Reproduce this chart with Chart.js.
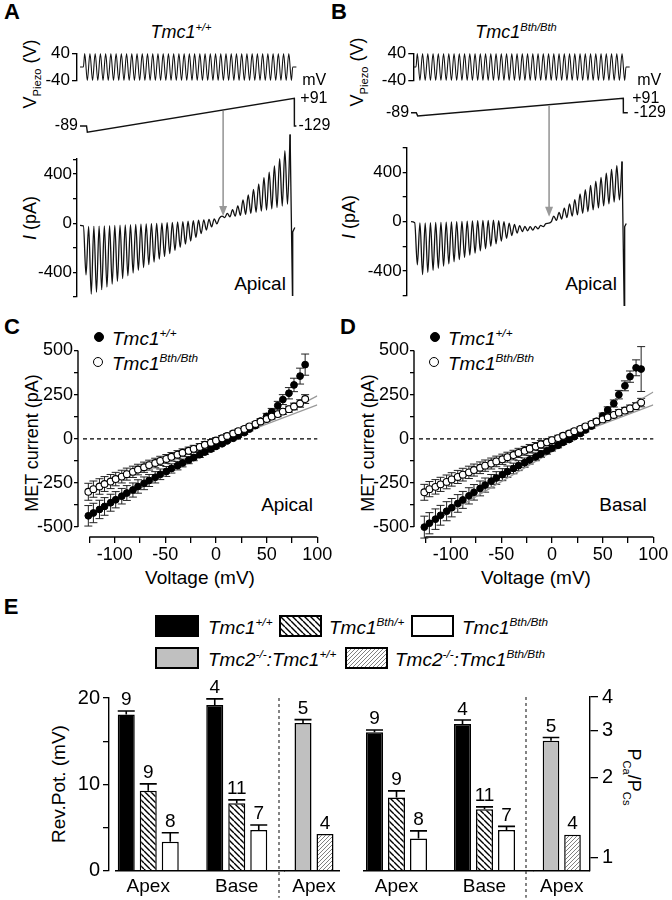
<!DOCTYPE html>
<html>
<head>
<meta charset="utf-8">
<title>Tmc1 MET currents</title>
<script src="https://cdn.jsdelivr.net/npm/chart.js@4.4.1/dist/chart.umd.min.js"></script>
<style>
  body { margin: 0; background: #fff; }
  #fig { position: relative; width: 672px; height: 900px; overflow: hidden; background: #fff;
         font-family: "Liberation Sans", Arial, Helvetica, sans-serif; color: #000; }
  #fig canvas { position: absolute; }
  .txt { position: absolute; white-space: nowrap; line-height: 1; font-weight: normal; transform: translate(-50%, -50%); }
  .left { transform: translate(0, -50%); }
  .up { transform: translate(-50%, -50%) rotate(-90deg); }
  .down { transform: translate(-50%, -50%) rotate(90deg); }
  .panel { font-weight: bold; font-size: 22px; }
  .it { font-style: italic; }
  sup, sub { font-size: 62%; line-height: 0; }
  .dot { position: absolute; width: 10px; height: 10px; border-radius: 50%; border: 1.3px solid #000;
         box-sizing: border-box; transform: translate(-50%, -50%); }
</style>
</head>
<body>
<div id="fig">
  <div class="txt panel" style="left:12px;top:12px">A</div>
  <div class="txt panel" style="left:339px;top:12px">B</div>
  <div class="txt panel" style="left:12px;top:327px">C</div>
  <div class="txt panel" style="left:348px;top:327px">D</div>
  <div class="txt panel" style="left:11px;top:607px">E</div>

  <div class="txt it" style="left:181px;top:32px;font-size:18px">Tmc1<sup>+/+</sup></div>
  <div class="txt it" style="left:516px;top:32px;font-size:18px">Tmc1<sup>Bth/Bth</sup></div>
  <div class="txt up" style="left:30px;top:74px;font-size:18px">V<sub>Piezo</sub> (V)</div>
  <div class="txt up" style="left:357px;top:72px;font-size:18px">V<sub>Piezo</sub> (V)</div>
  <div class="txt up" style="left:30px;top:218px;font-size:18px"><i>I</i> (pA)</div>
  <div class="txt up" style="left:349px;top:217px;font-size:18px"><i>I</i> (pA)</div>
  <div class="txt" style="left:260px;top:283px;font-size:19px">Apical</div>
  <div class="txt" style="left:591px;top:283px;font-size:19px">Apical</div>

  <div class="dot" style="left:99px;top:337px;background:#000"></div>
  <div class="txt left it" style="left:112px;top:338px;font-size:19px">Tmc1<sup>+/+</sup></div>
  <div class="dot" style="left:98px;top:362px;background:#fff"></div>
  <div class="txt left it" style="left:112px;top:363px;font-size:19px">Tmc1<sup>Bth/Bth</sup></div>
  <div class="dot" style="left:435px;top:337px;background:#000"></div>
  <div class="txt left it" style="left:448px;top:338px;font-size:19px">Tmc1<sup>+/+</sup></div>
  <div class="dot" style="left:434px;top:362px;background:#fff"></div>
  <div class="txt left it" style="left:448px;top:363px;font-size:19px">Tmc1<sup>Bth/Bth</sup></div>

  <div class="txt up" style="left:32px;top:443px;font-size:18px">MET current (pA)</div>
  <div class="txt up" style="left:368px;top:443px;font-size:18px">MET current (pA)</div>
  <div class="txt" style="left:200px;top:577px;font-size:19px">Voltage (mV)</div>
  <div class="txt" style="left:536px;top:577px;font-size:19px">Voltage (mV)</div>
  <div class="txt" style="left:287px;top:504px;font-size:19px">Apical</div>
  <div class="txt" style="left:623px;top:504px;font-size:19px">Basal</div>

  <div class="txt left it" style="left:208px;top:627px;font-size:19px">Tmc1<sup>+/+</sup></div>
  <div class="txt left it" style="left:329px;top:627px;font-size:19px">Tmc1<sup>Bth/+</sup></div>
  <div class="txt left it" style="left:462px;top:627px;font-size:19px">Tmc1<sup>Bth/Bth</sup></div>
  <div class="txt left it" style="left:208px;top:659px;font-size:19px">Tmc2<sup>-/-</sup>:Tmc1<sup>+/+</sup></div>
  <div class="txt left it" style="left:395px;top:659px;font-size:19px">Tmc2<sup>-/-</sup>:Tmc1<sup>Bth/Bth</sup></div>
  <div class="txt up" style="left:58px;top:784px;font-size:19px">Rev.Pot. (mV)</div>
  <div class="txt down" style="left:634px;top:777px;font-size:18px">P<sub>Ca</sub>/P<sub>Cs</sub></div>
</div>
<script>
// piezo drive, one extreme per half cycle (V)
const piezoWave = [40,-40,40,-40,40,-40,40,-40,40,-40,40,-40,40,-40,40,-40,40,-40,40,-40,
  40,-40,40,-40,40,-40,40,-40,40,-40,40,-40,40,-40,40,-40,40,-40,40,-40,
  40,-40,40,-40,40,-40,40,-40,40,-40,40,-40,40,-40,40,-40,40,-40,40,-40,
  40,-40,40,-40,40,-40,40,-40,40,-40,40,-40,40,-40,40,-40,40,-40,40,-40];
const piezoTicks = [-40, 40];

// current per stimulus cycle (pA): level between deflections and at the deflection peak
const restA = [-22,-26,-25,-23,-21,-19,-17,-15,-13,-11,-9,-7,-5,-3,-1,1,4,7,10,13,
  16,20,24,28,32,36,42,46,51,57,64,72,80,89,98,107,117,127,140,155];
const peakA = [-420,-575,-560,-540,-518,-495,-472,-450,-427,-405,-382,-360,-337,-315,-292,-270,-247,-222,-195,-170,
  -145,-115,-85,-55,-30,-5,58,80,110,140,190,230,275,320,370,415,465,525,590,720];
const restB = [-8,-10,-9,-8,-6,-5,-4,-2,0,2,4,6,8,10,11,12,8,0,-12,-22,
  -32,-38,-40,-38,-30,-15,-2,10,22,34,45,55,68,82,96,112,128,145,160,176];
const peakB = [-350,-430,-412,-395,-378,-360,-343,-325,-308,-290,-272,-255,-237,-220,-200,-180,-158,-135,-112,-92,
  -80,-74,-68,-58,-40,-12,45,75,110,145,180,225,260,295,330,360,395,425,455,488];
const leadA = [-0.65, -18];
const leadB = [-0.7, 0];
const tailTimesA = [39.5, 39.95, 40.0, 40.4];
const tailCurrentA = [720, -585, -70, -35];
const tailTimesB = [39.5, 39.9, 40.0, 40.3];
const tailCurrentB = [488, -680, -40, -15];
const currentTicksA = [-600, -400, -200, 0, 200, 400, 520];
const currentTicksB = [-600, -400, -200, 0, 200, 400, 600];
const currentLabels = [-400, 0, 400];

// voltage protocol (mV) against stimulus cycles
const rampVolts = [-89, -89, -129, 91, -89, -89];
const rampTimesA = [-0.65, 0.6, 0.75, 40.3, 40.32, 40.7];
const rampTimesB = [-0.7, 0.3, 0.57, 39.73, 39.75, 40.6];
const rampNotes = ['-89', '+91', '-129', 'mV'];
const arrowA = { t: 26.7, mV: 15, pA: 59 };
const arrowB = { t: 25.6, mV: 11, pA: 41 };

// I-V relations, one point per cycle
const voltages = [-126,-121,-115,-110,-104,-99,-93,-88,-82,-77,-71,-66,-60,-55,-49,-44,-38,-33,-27,-22,
  -16,-11,-5,0,6,11,17,22,28,33,39,44,50,55,61,66,72,77,83,88];
const apicalWT = [-436,-420,-400,-383,-362,-345,-325,-307,-290,-270,-252,-236,-218,-201,-185,-168,-152,-137,-121,-106,
  -90,-75,-58,-43,-28,-12,3,18,35,55,75,100,127,152,188,222,258,305,355,420];
const apicalWTErr = [58,55,52,50,48,46,44,42,40,38,36,34,32,30,28,26,24,22,20,18,
  16,14,12,10,9,8,8,8,9,10,12,14,17,20,24,28,32,38,45,60];
const apicalBth = [-300,-285,-270,-256,-242,-228,-214,-200,-187,-174,-161,-149,-137,-125,-114,-102,-90,-79,-68,-57,
  -46,-34,-22,-10,3,16,30,43,56,70,84,98,112,126,140,154,168,183,200,225];
const apicalBthErr = [48,46,44,42,40,38,36,34,32,30,29,28,27,26,25,24,23,22,21,20,
  19,18,17,16,15,14,13,12,12,12,12,12,13,14,15,16,17,19,21,25];
const basalWT = [-500,-478,-455,-433,-410,-390,-366,-346,-323,-303,-281,-262,-240,-222,-203,-186,-168,-152,-135,-119,
  -102,-86,-69,-53,-37,-20,-4,12,30,50,72,98,130,163,200,250,300,352,402,395];
const basalWTErr = [62,60,58,56,54,52,50,48,46,44,42,40,38,36,34,32,30,28,26,24,
  22,20,18,16,14,12,11,10,10,11,12,14,16,18,20,24,28,32,45,127];
const basalBth = [-303,-285,-272,-258,-244,-230,-216,-203,-190,-177,-164,-152,-140,-128,-116,-104,-92,-80,-68,-56,
  -44,-32,-20,-8,4,17,30,43,56,70,84,98,110,122,135,148,160,172,185,205];
const basalBthErr = [45,43,41,40,39,38,37,36,35,34,33,32,31,30,29,28,27,26,25,24,
  23,22,20,18,16,14,13,12,12,12,12,13,14,15,16,17,18,19,20,24];
const fitVolts = [-126, 100];
const fitApicalWT = [-436, 243];
const fitApicalBth = [-300, 192];
const fitBasalWT = [-500, 265];
const fitBasalBth = [-300, 192];
const ivTicksX = [-125, -100, -75, -50, -25, 0, 25, 50, 75, 100];
const ivLabelsX = [-100, -50, 0, 50, 100];
const ivTicksY = [-500, -375, -250, -125, 0, 125, 250, 375, 500];
const ivLabelsY = [-500, -250, 0, 250, 500];

// reversal potential (mV) and P_Ca/P_Cs, with SEM and cell numbers
const eGroups = ['Apex', 'Base'];
const eTmc2Groups = ['Apex'];
const revWT = [18.1, 19.2], revWTErr = [0.4, 0.7];
const revHet = [9.25, 7.8], revHetErr = [0.8, 0.4];
const revBth = [3.35, 4.7], revBthErr = [1.05, 0.6];
const revTmc2WT = [17.1], revTmc2WTErr = [0.4];
const revTmc2Bth = [4.25], revTmc2BthErr = [0];
const ratioWT = [2.95, 3.17], ratioWTErr = [0.06, 0.11];
const ratioHet = [1.68, 1.52], ratioHetErr = [0.1, 0.03];
const ratioBth = [1.18, 1.27], ratioBthErr = [0.08, 0.04];
const ratioTmc2WT = [2.74], ratioTmc2WTErr = [0.08];
const ratioTmc2Bth = [1.22], ratioTmc2BthErr = [0];
const nWT = [9, 4], nHet = [9, 11], nBth = [8, 7], nTmc2WT = [5], nTmc2Bth = [4];
const revTicks = [0, 5, 10, 15, 20], revLabels = [0, 10, 20];
const ratioTicks = [1, 2, 3, 4];

Chart.defaults.font.family = '"Liberation Sans", Arial, sans-serif';
Chart.defaults.color = '#000';
Chart.defaults.animation = false;
Chart.defaults.events = [];
Chart.defaults.plugins.legend.display = false;
Chart.defaults.plugins.tooltip.enabled = false;

const fig = document.getElementById('fig');
const FONT = '"Liberation Sans", Arial, sans-serif';

const zip = (xs, ys) => xs.map((x, i) => ({ x: x, y: ys[i] }));

function hatch(size, color, width, slash, bg) {
  const c = document.createElement('canvas');
  c.width = c.height = size;
  const g = c.getContext('2d');
  g.fillStyle = bg;
  g.fillRect(0, 0, size, size);
  g.strokeStyle = color;
  g.lineWidth = width;
  g.beginPath();
  [-size, 0, size].forEach(o => {
    if (slash) { g.moveTo(o, size); g.lineTo(o + size, 0); }
    else { g.moveTo(o, 0); g.lineTo(o + size, size); }
  });
  g.stroke();
  return g.createPattern(c, 'repeat');
}
const coarseHatch = hatch(6, '#000', 1.4, false, '#fff');
const fineHatch = hatch(4, '#808080', 1, true, '#fff');

// canvas placed so the chart area lands on `area`, with `room` kept round it
function placeChart(area, room, config) {
  const x0 = Math.floor(area.l - room.l), y0 = Math.floor(area.t - room.t);
  const x1 = Math.ceil(area.r + room.r), y1 = Math.ceil(area.b + room.b);
  const pad = { left: area.l - x0, top: area.t - y0, right: x1 - area.r, bottom: y1 - area.b };
  const cv = document.createElement('canvas');
  cv.width = x1 - x0;
  cv.height = y1 - y0;
  cv.style.left = x0 + 'px';
  cv.style.top = y0 + 'px';
  fig.appendChild(cv);
  const layoutPad = Object.assign({}, pad);
  Object.values(config.options.scales).forEach(s => {
    if (s.display === false) return;
    const side = s.position;
    layoutPad[side] = 0;
    s.afterFit = sc => {
      if (side === 'left' || side === 'right') sc.width = pad[side];
      else sc.height = pad[side];
      sc.paddingLeft = sc.paddingRight = sc.paddingTop = sc.paddingBottom = 0;
    };
  });
  config.options.layout = { padding: layoutPad };
  config.options.responsive = false;
  return new Chart(cv, config);
}

function axisOf(o) {
  return {
    type: o.type || 'linear',
    position: o.position,
    min: o.min,
    max: o.max,
    offset: false,
    afterBuildTicks: s => { s.ticks = o.ticks.map(v => ({ value: v })); },
    grid: { display: true, offset: false, drawOnChartArea: false, drawTicks: o.tickLen > 0,
            tickLength: o.tickLen, color: '#000', lineWidth: 1.3 },
    border: { display: o.border !== false, color: '#000', width: 1.4 },
    ticks: { autoSkip: false, maxRotation: 0, padding: o.pad, color: '#000', font: { size: o.size },
             callback: o.label || (v => (o.labels.includes(v) ? String(v) : '')) }
  };
}

// ---------- A / B: stimulus, voltage ramp and current traces ----------
function piezoPoints(lead) {
  const pts = [{ x: lead, y: 0 }, { x: 0, y: 0 }];
  piezoWave.forEach((v, k) => pts.push({ x: 0.25 + k / 2, y: v }));
  pts.push({ x: 40, y: 0 }, { x: 40.7, y: 0 });
  return pts;
}

function tracePoints(lead, rest, peak) {
  const pts = [{ x: lead[0], y: lead[1] }];
  rest.forEach((r, i) => {
    pts.push({ x: i, y: r });
    pts.push({ x: i + 0.5, y: peak[i] });
  });
  return pts;
}

function piezoChart(area, room, tMin, tMax, lead) {
  placeChart(area, room, {
    type: 'line',
    data: { datasets: [{ data: piezoPoints(lead), borderColor: '#111', borderWidth: 1.1, pointRadius: 0,
                         cubicInterpolationMode: 'monotone', clip: false }] },
    options: { scales: {
      x: { type: 'linear', display: false, min: tMin, max: tMax },
      y: axisOf({ position: 'left', min: -40, max: 40, ticks: piezoTicks, labels: piezoTicks,
                  tickLen: 5, pad: 2, size: 17 })
    } }
  });
}

const traceNotes = {
  id: 'traceNotes',
  afterDatasetsDraw(chart, args, o) {
    const ctx = chart.ctx;
    const ramp = chart.getDatasetMeta(2).data;
    const first = ramp[0], top = ramp[3], last = ramp[ramp.length - 1];
    ctx.save();
    ctx.fillStyle = '#000';
    ctx.font = '16px ' + FONT;
    ctx.textBaseline = 'middle';
    ctx.textAlign = 'right';
    ctx.fillText(rampNotes[0], first.x - 2, first.y);
    ctx.textAlign = 'left';
    ctx.fillText(rampNotes[1], top.x + o.gapTop, top.y);
    ctx.fillText(rampNotes[2], last.x + o.gapEnd, last.y);
    ctx.fillText(rampNotes[3], top.x + o.gapUnit, top.y - 18);

    const ax = chart.scales.x.getPixelForValue(o.arrow.t);
    const ay0 = chart.scales.yV.getPixelForValue(o.arrow.mV) + 1;
    const ay1 = chart.scales.y.getPixelForValue(o.arrow.pA);
    ctx.strokeStyle = '#999';
    ctx.fillStyle = '#999';
    ctx.lineWidth = 1.6;
    ctx.beginPath();
    ctx.moveTo(ax, ay0);
    ctx.lineTo(ax, ay1 - 8);
    ctx.stroke();
    ctx.beginPath();
    ctx.moveTo(ax - 4, ay1 - 10);
    ctx.lineTo(ax + 4, ay1 - 10);
    ctx.lineTo(ax, ay1);
    ctx.closePath();
    ctx.fill();
    ctx.restore();
  }
};

function currentChart(area, room, t, yRange, vRange, trace, ticks, notes) {
  placeChart(area, room, {
    type: 'line',
    data: { datasets: [
      { data: trace.points, borderColor: '#111', borderWidth: 1.3, pointRadius: 0,
        cubicInterpolationMode: 'monotone', clip: false },
      { data: trace.tail, borderColor: '#111', borderWidth: 1.3, pointRadius: 0, tension: 0, clip: false },
      { data: trace.ramp, yAxisID: 'yV', borderColor: '#111', borderWidth: 1.4, pointRadius: 0, tension: 0, clip: false }
    ] },
    options: {
      scales: {
        x: { type: 'linear', display: false, min: t[0], max: t[1] },
        y: axisOf({ position: 'left', min: yRange[0], max: yRange[1], ticks: ticks, labels: currentLabels,
                    tickLen: 4, pad: 1, size: 17 }),
        yV: { type: 'linear', display: false, min: vRange[0], max: vRange[1] }
      },
      plugins: { traceNotes: notes }
    },
    plugins: [traceNotes]
  });
}

piezoChart({ l: 77, r: 300, t: 53.5, b: 80.5 }, { l: 77, t: 8, r: 40, b: 8 }, -1.223, 41.39, -0.65);
piezoChart({ l: 413.3, r: 640, t: 53.5, b: 80.5 }, { l: 77.3, t: 8, r: 30, b: 8 }, -0.514, 42.67, -0.45);

currentChart({ l: 77, r: 300, t: 159.2, b: 297.1 }, { l: 77, t: 92, r: 40, b: 10 },
  [-1.223, 41.39], [-600, 520], [-1200.7, -304.7],
  { points: tracePoints(leadA, restA, peakA), tail: zip(tailTimesA, tailCurrentA), ramp: zip(rampTimesA, rampVolts) },
  currentTicksA, { gapTop: 6, gapEnd: 2, gapUnit: 8, arrow: arrowA });
currentChart({ l: 406.7, r: 640, t: 147.8, b: 295.6 }, { l: 70.7, t: 81, r: 30, b: 14 },
  [-1.524, 42.92], [-600, 600], [-2375.25, -527.75],
  { points: tracePoints(leadB, restB, peakB), tail: zip(tailTimesB, tailCurrentB), ramp: zip(rampTimesB, rampVolts) },
  currentTicksB, { gapTop: 9, gapEnd: 6, gapUnit: 14, arrow: arrowB });

// ---------- C / D: I-V relations ----------
const ivDecor = {
  id: 'ivDecor',
  beforeDatasetsDraw(chart) {
    const ctx = chart.ctx, xs = chart.scales.x, ys = chart.scales.y, a = chart.chartArea;
    ctx.save();
    ctx.strokeStyle = '#000';
    ctx.lineWidth = 1.4;
    ctx.beginPath();
    ctx.moveTo(a.left, ys.getPixelForValue(ivTicksY[0]));
    ctx.lineTo(a.left, ys.getPixelForValue(ivTicksY[ivTicksY.length - 1]));
    ctx.moveTo(xs.getPixelForValue(ivTicksX[0]), a.bottom);
    ctx.lineTo(xs.getPixelForValue(ivTicksX[ivTicksX.length - 1]), a.bottom);
    ctx.stroke();

    const y0 = ys.getPixelForValue(0);
    ctx.setLineDash([4, 3]);
    ctx.lineWidth = 1.3;
    ctx.beginPath();
    ctx.moveTo(a.left + 5, y0);
    ctx.lineTo(xs.getPixelForValue(100), y0);
    ctx.stroke();
    ctx.setLineDash([]);

    ctx.lineWidth = 1;
    ctx.strokeStyle = '#222';
    chart.data.datasets.forEach((ds, i) => {
      if (!ds.err) return;
      chart.getDatasetMeta(i).data.forEach((p, j) => {
        const hi = ys.getPixelForValue(ds.data[j].y + ds.err[j]);
        const lo = ys.getPixelForValue(ds.data[j].y - ds.err[j]);
        ctx.beginPath();
        ctx.moveTo(p.x, hi); ctx.lineTo(p.x, lo);
        ctx.moveTo(p.x - 4, hi); ctx.lineTo(p.x + 4, hi);
        ctx.moveTo(p.x - 4, lo); ctx.lineTo(p.x + 4, lo);
        ctx.stroke();
      });
    });
    ctx.restore();
  }
};

function ivChart(left, wt, wtErr, bth, bthErr, fitWT, fitBth) {
  placeChart({ l: left, r: left + 239.3, t: 350.5, b: 537 }, { l: 78, t: 30, r: 18, b: 48 }, {
    type: 'scatter',
    data: { datasets: [
      { data: zip(voltages, bth), err: bthErr, pointRadius: 3.4, pointBackgroundColor: '#fff',
        pointBorderColor: '#000', pointBorderWidth: 1.1, order: 0 },
      { data: zip(voltages, wt), err: wtErr, pointRadius: 3.4, pointBackgroundColor: '#000',
        pointBorderColor: '#000', pointBorderWidth: 1, order: 1 },
      { type: 'line', data: zip(fitVolts, fitWT), borderColor: '#999', borderWidth: 1.2, pointRadius: 0, order: 2 },
      { type: 'line', data: zip(fitVolts, fitBth), borderColor: '#999', borderWidth: 1.2, pointRadius: 0, order: 3 }
    ] },
    options: { scales: {
      x: axisOf({ position: 'bottom', min: -136.2, max: 100, ticks: ivTicksX, labels: ivLabelsX,
                  tickLen: 6, pad: 1, size: 18, border: false }),
      y: axisOf({ position: 'left', min: -556, max: 500, ticks: ivTicksY, labels: ivLabelsY,
                  tickLen: 4, pad: 1, size: 18, border: false })
    } },
    plugins: [ivDecor]
  });
}

ivChart(78, apicalWT, apicalWTErr, apicalBth, apicalBthErr, fitApicalWT, fitApicalBth);
ivChart(414, basalWT, basalWTErr, basalBth, basalBthErr, fitBasalWT, fitBasalBth);

// ---------- E: bar charts ----------
const barNotes = {
  id: 'barNotes',
  afterDatasetsDraw(chart, args, o) {
    const ctx = chart.ctx, ys = chart.scales.y, a = chart.chartArea;
    ctx.save();
    ctx.strokeStyle = '#000';
    ctx.fillStyle = '#000';
    ctx.lineWidth = 1.6;
    ctx.font = '19px ' + FONT;
    ctx.textAlign = 'center';
    ctx.textBaseline = 'alphabetic';
    chart.data.datasets.forEach((ds, i) => {
      chart.getDatasetMeta(i).data.forEach((bar, j) => {
        const e = ds.err[j];
        const top = ys.getPixelForValue(ds.data[j].y + e);
        if (e > 0) {
          ctx.beginPath();
          ctx.moveTo(bar.x, bar.y);
          ctx.lineTo(bar.x, top);
          ctx.moveTo(bar.x - bar.width / 2, top);
          ctx.lineTo(bar.x + bar.width / 2, top);
          ctx.stroke();
        }
        ctx.fillText(String(ds.n[j]), bar.x, top - 5.5);
      });
    });
    ctx.lineWidth = 1.6;
    ctx.beginPath();
    ctx.moveTo(a.left + o.from, a.bottom);
    ctx.lineTo(a.right + o.to, a.bottom);
    ctx.stroke();
    if (o.divider) {
      ctx.lineWidth = 1.2;
      ctx.strokeStyle = '#333';
      ctx.setLineDash([3, 3]);
      ctx.beginPath();
      ctx.moveTo(a.right - 2, a.top);
      ctx.lineTo(a.right - 2, a.bottom + 27);
      ctx.stroke();
    }
    ctx.restore();
  }
};

function bars(values, errs, ns, fill, catPct) {
  return { data: values.map((v, i) => ({ x: i, y: v })), err: errs, n: ns, backgroundColor: fill,
           borderColor: '#000', borderWidth: 1.5, barPercentage: 0.773, categoryPercentage: catPct };
}

function groupAxis(min, max, names) {
  return axisOf({ position: 'bottom', min: min, max: max, ticks: names.map((n, i) => i),
                  label: v => names[v], tickLen: 0, pad: 5, size: 19, border: false });
}

function barChart(area, room, datasets, xAxis, yAxis, notes) {
  placeChart(area, room, {
    type: 'bar',
    data: { datasets: datasets },
    options: { scales: { x: xAxis, y: yAxis }, plugins: { barNotes: notes } },
    plugins: [barNotes]
  });
}

barChart({ l: 109, r: 281, t: 698, b: 870.7 }, { l: 109, t: 45, r: 8, b: 28 }, [
    bars(revWT, revWTErr, nWT, '#000', 0.7458),
    bars(revHet, revHetErr, nHet, coarseHatch, 0.7458),
    bars(revBth, revBthErr, nBth, '#fff', 0.7458)
  ], groupAxis(-0.4435, 1.5, eGroups),
  axisOf({ position: 'left', min: 0, max: 20, ticks: revTicks, labels: revLabels, tickLen: 6, pad: 3, size: 20 }),
  { from: 6, to: 4, divider: true });

barChart({ l: 284, r: 344, t: 698, b: 870.7 }, { l: 4, t: 45, r: 4, b: 28 }, [
    bars(revTmc2WT, revTmc2WTErr, nTmc2WT, '#c0c0c0', 0.7333),
    bars(revTmc2Bth, revTmc2BthErr, nTmc2Bth, fineHatch, 0.7333)
  ], groupAxis(-0.5, 0.5, eTmc2Groups),
  { type: 'linear', display: false, min: 0, max: 20 },
  { from: 0, to: -4, divider: false });

barChart({ l: 363, r: 528, t: 697, b: 870.7 }, { l: 5, t: 45, r: 8, b: 28 }, [
    bars(ratioWT, ratioWTErr, nWT, '#000', 0.75),
    bars(ratioHet, ratioHetErr, nHet, coarseHatch, 0.75),
    bars(ratioBth, ratioBthErr, nBth, '#fff', 0.75)
  ], groupAxis(-0.3807, 1.494, eGroups),
  { type: 'logarithmic', display: false, min: 0.894, max: 4 },
  { from: 0, to: 6, divider: true });

barChart({ l: 533.5, r: 590, t: 697, b: 870.7 }, { l: 4, t: 45, r: 40, b: 28 }, [
    bars(ratioTmc2WT, ratioTmc2WTErr, nTmc2WT, '#c0c0c0', 0.761),
    bars(ratioTmc2Bth, ratioTmc2BthErr, nTmc2Bth, fineHatch, 0.761)
  ], groupAxis(-0.5, 0.5, eTmc2Groups),
  axisOf({ type: 'logarithmic', position: 'right', min: 0.894, max: 4, ticks: ratioTicks,
           label: v => String(v), tickLen: 8, pad: 4, size: 20 }),
  { from: 0, to: 0, divider: false });

// legend swatches for E
function swatch(x, y, w, h, fill) {
  const c = document.createElement('canvas');
  c.width = w;
  c.height = h;
  c.style.left = x + 'px';
  c.style.top = y + 'px';
  const g = c.getContext('2d');
  g.fillStyle = fill;
  g.fillRect(0, 0, w, h);
  g.strokeStyle = '#000';
  g.lineWidth = 2;
  g.strokeRect(1, 1, w - 2, h - 2);
  fig.appendChild(c);
}
swatch(155, 615, 44, 22, '#000');
swatch(279, 615, 43, 22, coarseHatch);
swatch(411, 615, 43, 22, '#fff');
swatch(155, 647, 44, 22, '#c0c0c0');
swatch(345, 647, 43, 22, fineHatch);
</script>
</body>
</html>
